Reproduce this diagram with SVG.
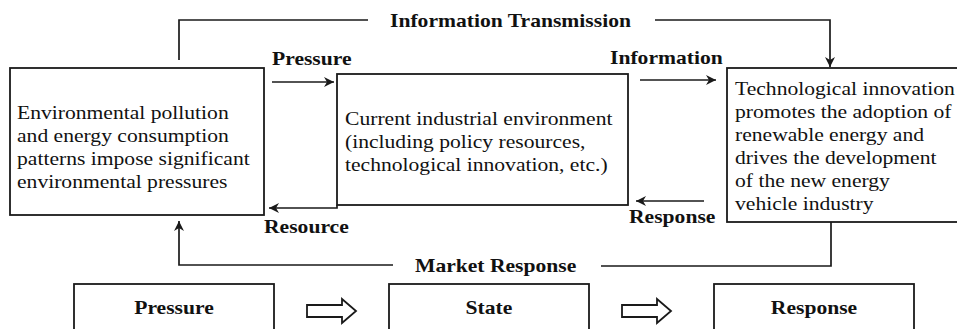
<svg xmlns="http://www.w3.org/2000/svg" width="957" height="329" viewBox="0 0 957 329">
  <defs>
    <style>
      .box { fill: #ffffff; stroke: #1a1a1a; stroke-width: 1.8; }
      .wire { fill: none; stroke: #1a1a1a; stroke-width: 1.7; }
      .txt { font-family: "Liberation Serif", "Times New Roman", serif; font-size: 18px; fill: #111111; }
      .lbl { font-family: "Liberation Serif", "Times New Roman", serif; font-size: 18px; font-weight: bold; fill: #111111; }
      .mid { text-anchor: middle; }
      .hollow { fill: #ffffff; stroke: #1a1a1a; stroke-width: 1.8; stroke-linejoin: miter; }
    </style>
    <marker id="arrow" markerUnits="userSpaceOnUse" markerWidth="12" markerHeight="12" refX="10" refY="5" orient="auto" overflow="visible">
      <path d="M0,0 L10,5 L0,10 L3,5 Z" fill="#1a1a1a"/>
    </marker>
  </defs>

  <rect width="957" height="329" fill="#ffffff"/>

  <!-- connectors -->
  <g id="connectors">
    <!-- information transmission loop over the top -->
    <path class="wire" d="M179,60 V20 H368"/>
    <path class="wire" d="M655,20 H830 V67" marker-end="url(#arrow)"/>
    <text class="lbl" transform="translate(390 27) scale(1.2 1)">Information Transmission</text>

    <!-- pressure -->
    <path class="wire" d="M272,82 H334" marker-end="url(#arrow)"/>
    <text class="lbl" transform="translate(272 65) scale(1.2 1)">Pressure</text>

    <!-- information -->
    <path class="wire" d="M640,80 H716" marker-end="url(#arrow)"/>
    <text class="lbl" transform="translate(610 64) scale(1.2 1)">Information</text>

    <!-- response back to the industrial environment -->
    <path class="wire" d="M704,201 H636" marker-end="url(#arrow)"/>
    <text class="lbl" transform="translate(629 223) scale(1.2 1)">Response</text>

    <!-- resource back to the pressure box -->
    <path class="wire" d="M337,205 V208 H269" marker-end="url(#arrow)"/>
    <text class="lbl" transform="translate(264 233) scale(1.2 1)">Resource</text>

    <!-- market response loop underneath -->
    <path class="wire" d="M601,266 H831 V222"/>
    <path class="wire" d="M393,265 H179 V221" marker-end="url(#arrow)"/>
    <text class="lbl" transform="translate(415 272) scale(1.2 1)">Market Response</text>

    <!-- hollow arrows between the PSR stages -->
    <path class="hollow" d="M307,305 H342 V299 L356,311 L342,323 V317 H307 Z"/>
    <path class="hollow" d="M622,305 H657 V299 L671,311 L657,323 V317 H622 Z"/>
  </g>

  <!-- pressure source -->
  <g id="node-pressure-source">
    <rect class="box" x="10" y="68" width="254" height="147"/>
    <text class="txt" transform="translate(17 119) scale(1.2 1)">Environmental pollution</text>
    <text class="txt" transform="translate(17 142) scale(1.2 1)">and energy consumption</text>
    <text class="txt" transform="translate(17 165) scale(1.2 1)">patterns impose significant</text>
    <text class="txt" transform="translate(17 188) scale(1.2 1)">environmental pressures</text>
  </g>

  <!-- current industrial environment -->
  <g id="node-state">
    <rect class="box" x="337" y="74" width="291" height="131"/>
    <text class="txt" transform="translate(345 125) scale(1.2 1)">Current industrial environment</text>
    <text class="txt" transform="translate(345 148) scale(1.2 1)">(including policy resources,</text>
    <text class="txt" transform="translate(345 171) scale(1.2 1)">technological innovation, etc.)</text>
  </g>

  <!-- response -->
  <g id="node-response">
    <rect class="box" x="727" y="68" width="240" height="154"/>
    <text class="txt" transform="translate(735 95) scale(1.2 1)">Technological innovation</text>
    <text class="txt" transform="translate(735 118) scale(1.2 1)">promotes the adoption of</text>
    <text class="txt" transform="translate(735 141) scale(1.2 1)">renewable energy and</text>
    <text class="txt" transform="translate(735 164) scale(1.2 1)">drives the development</text>
    <text class="txt" transform="translate(735 187) scale(1.2 1)">of the new energy</text>
    <text class="txt" transform="translate(735 210) scale(1.2 1)">vehicle industry</text>
  </g>

  <!-- PSR stage legend -->
  <g id="stage-pressure">
    <rect class="box" x="74" y="284" width="200" height="60"/>
    <text class="lbl mid" transform="translate(174 314) scale(1.2 1)">Pressure</text>
  </g>
  <g id="stage-state">
    <rect class="box" x="389" y="284" width="200" height="60"/>
    <text class="lbl mid" transform="translate(489 314) scale(1.2 1)">State</text>
  </g>
  <g id="stage-response">
    <rect class="box" x="714" y="284" width="200" height="60"/>
    <text class="lbl mid" transform="translate(814 314) scale(1.2 1)">Response</text>
  </g>
</svg>
